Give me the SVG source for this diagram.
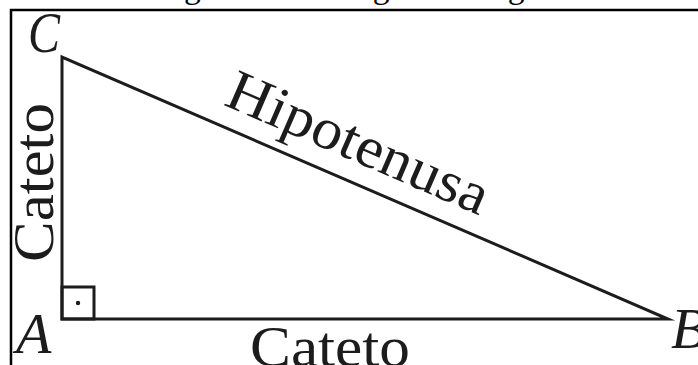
<svg xmlns="http://www.w3.org/2000/svg" width="698" height="365" viewBox="0 0 698 365">
  <style>
    .ln { fill: none; stroke: #1c1c1c; stroke-width: 3; stroke-linejoin: miter; stroke-miterlimit: 12; }
    .frame { fill: none; stroke: #000; stroke-width: 2.5; }
    .lbl { font-family: "Liberation Serif", "Times New Roman", serif; font-size: 58px; fill: #1c1c1c; }
    .vtx { font-family: "Liberation Serif", "Times New Roman", serif; font-size: 58px; font-style: italic; fill: #1c1c1c; }
    .cap { font-family: "Liberation Serif", "Times New Roman", serif; font-size: 33.5px; fill: #000; }
  </style>
  <rect x="0" y="0" width="698" height="365" fill="#fff"/>
  <text class="cap" x="156" y="-2">Figura 1 – Triângulo retângulo</text>
  <path class="frame" d="M11,365 L11,10 L698,10"/>
  <g id="triangle">
    <path class="ln" d="M62,57 L62,319 L668,319 Z"/>
  </g>
  <g id="right-angle">
    <rect class="ln" x="62" y="287" width="32" height="32"/>
    <circle cx="78" cy="303" r="2.2" fill="#1c1c1c"/>
  </g>
  <g id="labels">
    <text class="vtx" x="28" y="52" textLength="32" lengthAdjust="spacingAndGlyphs">C</text>
    <text class="vtx" x="16" y="353">A</text>
    <text class="vtx" x="671" y="348">B</text>
    <text class="lbl" transform="translate(53,182.5) rotate(-90)" x="0" y="0" text-anchor="middle" textLength="159" lengthAdjust="spacingAndGlyphs">Cateto</text>
    <text class="lbl" x="330" y="366" text-anchor="middle" textLength="160" lengthAdjust="spacingAndGlyphs">Cateto</text>
    <text class="lbl" transform="translate(351,160) rotate(23.4)" x="0" y="0" text-anchor="middle" textLength="280" lengthAdjust="spacingAndGlyphs">Hipotenusa</text>
  </g>
</svg>
